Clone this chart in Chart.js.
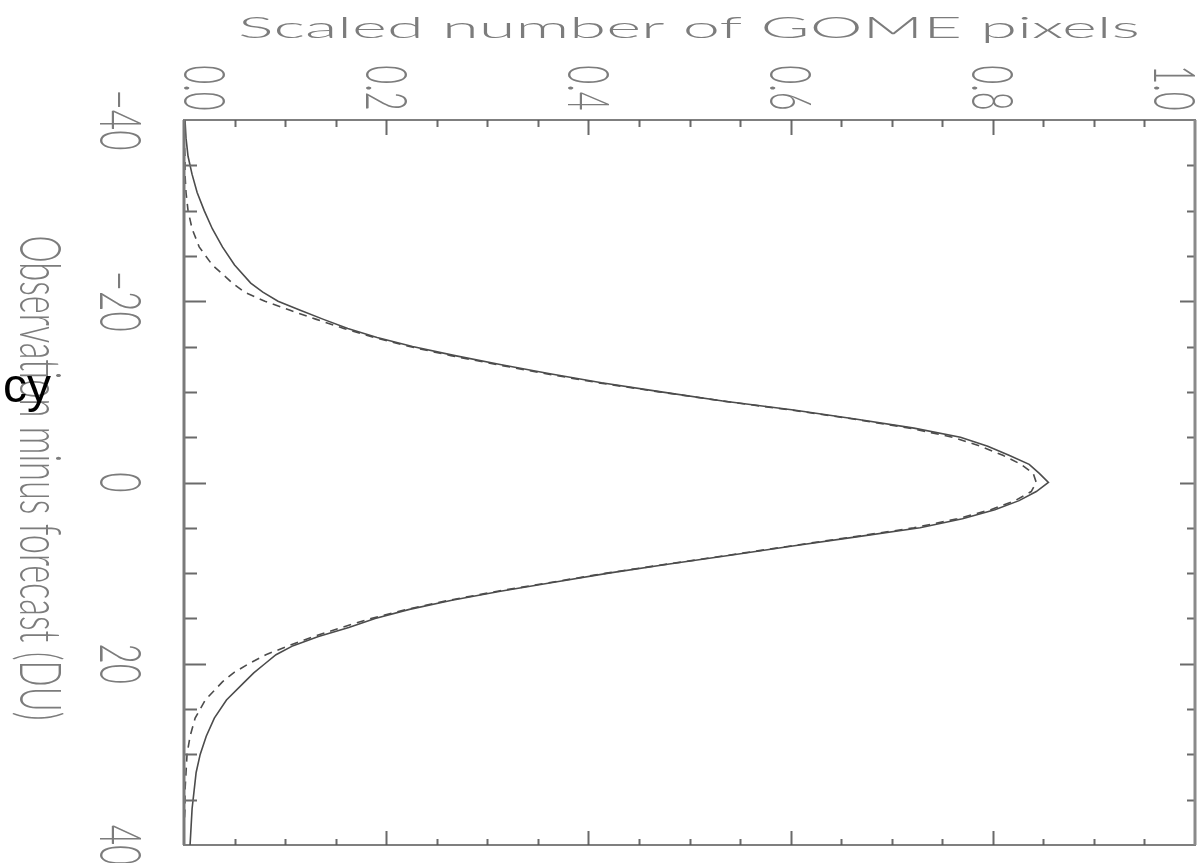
<!DOCTYPE html>
<html>
<head>
<meta charset="utf-8">
<script src="https://cdn.jsdelivr.net/npm/chart.js@4.4.1/dist/chart.umd.min.js"></script>
<style>
html,body{margin:0;padding:0;background:#fff;}
#wrap{position:relative;width:1204px;height:863px;}
</style>
</head>
<body>
<div id="wrap"><canvas id="c"></canvas></div>
<script>
// Observation minus forecast (DU) sample positions
const omfDU = [-40,-38,-36,-34,-32,-30,-28,-26,-24,-22,-21,-20,-19,-18,-17,-16,-15,-14,-13,-12,-11,-10,-9,-8,-7,-6,-5,-4,-3,-2,-1,0,
  1,2,3,4,5,6,7,8,9,10,11,12,13,14,15,16,17,18,19,20,21,22,24,26,28,30,32,34,36,38,40];
// Solid curve: scaled number of GOME pixels
const solidCounts = [0.001,0.002,0.004,0.008,0.013,0.020,0.028,0.038,0.050,0.066,0.078,0.093,0.115,0.138,0.162,0.191,0.226,0.268,0.314,0.362,0.413,0.472,0.533,0.603,0.664,0.722,0.768,0.795,0.816,0.836,0.846,0.855,
  0.843,0.826,0.802,0.770,0.728,0.665,0.602,0.542,0.480,0.420,0.366,0.313,0.265,0.223,0.189,0.163,0.133,0.108,0.091,0.080,0.069,0.060,0.042,0.030,0.022,0.016,0.012,0.010,0.008,0.007,0.006];
// Dashed curve
const dashedCounts = [0.000,0.000,0.001,0.001,0.002,0.004,0.008,0.015,0.028,0.048,0.060,0.080,0.105,0.131,0.158,0.188,0.223,0.264,0.310,0.358,0.410,0.470,0.532,0.600,0.662,0.718,0.760,0.788,0.810,0.828,0.840,0.843,
  0.838,0.822,0.798,0.765,0.722,0.662,0.600,0.540,0.478,0.418,0.364,0.310,0.262,0.220,0.185,0.156,0.128,0.104,0.081,0.064,0.049,0.038,0.021,0.011,0.006,0.003,0.002,0.001,0.001,0.000,0.000];
// Tick labels
const countTicks = [0.0,0.2,0.4,0.6,0.8,1.0];
const duTicks = [-40,-20,0,20,40];
const countTitle = 'Scaled number of GOME pixels';
const duTitle = 'Observation minus forecast (DU)';
const strayText = 'cy';

const TXT = '#7c7c7c';
const FONT = 'Lato, "DejaVu Sans", sans-serif';

function rotText(ctx, txt, cx, cy, size, sx, sy){
  ctx.save();
  ctx.font = '300 ' + size + 'px ' + FONT;
  ctx.fillStyle = TXT;
  ctx.translate(cx, cy);
  ctx.rotate(Math.PI/2);
  ctx.scale(sx, sy);
  ctx.textAlign = 'center';
  ctx.textBaseline = 'alphabetic';
  const capH = 0.72*size;
  ctx.fillText(txt, 0, capH/2);
  ctx.restore();
}

const axesPlugin = {
  id: 'idlAxes',
  afterDraw(chart){
    const ctx = chart.ctx;
    const xs = chart.scales.x, ys = chart.scales.y;
    const L = xs.getPixelForValue(0), R = xs.getPixelForValue(1);
    const T = ys.getPixelForValue(-40), B = ys.getPixelForValue(40);
    ctx.save();
    // ticks top/bottom
    ctx.strokeStyle = '#6a6a6a';
    ctx.lineWidth = 2;
    for (let i = 1; i < 20; i++){
      const v = i*0.05;
      const px = Math.round(xs.getPixelForValue(v)) + 0.5;
      const major = (i % 4 === 0);
      ctx.beginPath();
      ctx.moveTo(px, T); ctx.lineTo(px, T + (major ? 15 : 7));
      ctx.moveTo(px, B); ctx.lineTo(px, B - (major ? 14 : 6));
      ctx.stroke();
    }
    // ticks left/right
    for (let d = -35; d < 40; d += 5){
      const py = Math.round(ys.getPixelForValue(d)) + 0.5;
      const major = (d % 20 === 0);
      ctx.beginPath();
      ctx.moveTo(L, py); ctx.lineTo(L + (major ? 22 : 13), py);
      ctx.moveTo(R, py); ctx.lineTo(R - (major ? 15 : 8), py);
      ctx.stroke();
    }
    // axis lines
    ctx.strokeStyle = '#555';
    ctx.lineWidth = 1.6;
    ctx.beginPath(); ctx.moveTo(L-1, T); ctx.lineTo(R+1, T); ctx.stroke();
    ctx.beginPath(); ctx.moveTo(L-1, B); ctx.lineTo(R+1, B); ctx.stroke();
    ctx.strokeStyle = '#7a7a7a';
    ctx.lineWidth = 3;
    ctx.beginPath(); ctx.moveTo(L, T); ctx.lineTo(L, B); ctx.stroke();
    ctx.strokeStyle = '#8a8a8a';
    ctx.beginPath(); ctx.moveTo(R, T); ctx.lineTo(R, B); ctx.stroke();

    // top tick labels (rotated clockwise)
    const tsz = 26, tsy = 2.2, tsx = 1.25;
    const half = 0.72*tsz*tsy/2;
    countTicks.forEach(v => {
      let cx = xs.getPixelForValue(v);
      cx = Math.max(L + half, Math.min(R - half, cx));
      rotText(ctx, v.toFixed(1), cx, 88, tsz, tsx, tsy);
    });
    // left tick labels
    duTicks.forEach(d => {
      const cy = ys.getPixelForValue(d);
      rotText(ctx, (d < 0 ? '\u2212' : '') + Math.abs(d), 100 + half, cy, tsz, 1.35, tsy);
    });
    // left title
    ctx.save();
    ctx.font = '300 24px ' + FONT;
    const wL = ctx.measureText(duTitle).width;
    ctx.restore();
    rotText(ctx, duTitle, 20 + 0.72*24*2.4/2, 478, 24, 485/wL, 2.4);
    // top title
    ctx.save();
    ctx.font = '300 30px ' + FONT;
    ctx.fillStyle = TXT;
    const wT = ctx.measureText(countTitle).width;
    ctx.translate(689, 38);
    ctx.scale(902/wT, 1);
    ctx.textAlign = 'center';
    ctx.textBaseline = 'alphabetic';
    ctx.fillText(countTitle, 0, 0);
    ctx.restore();
    // stray text
    ctx.font = '48px "Liberation Sans", Arial, sans-serif';
    ctx.fillStyle = '#000';
    ctx.textAlign = 'left';
    ctx.textBaseline = 'alphabetic';
    ctx.fillText(strayText, 3, 402);
    ctx.restore();
  }
};

const toPts = (du, vals) => du.map((d, i) => ({x: vals[i], y: d}));

new Chart(document.getElementById('c'), {
  type: 'scatter',
  data: {
    datasets: [
      {data: toPts(omfDU, solidCounts), showLine: true, borderColor: '#4c4c4c', borderWidth: 1.6, pointRadius: 0, tension: 0, fill: false},
      {data: toPts(omfDU, dashedCounts), showLine: true, borderColor: '#4c4c4c', borderWidth: 1.6, borderDash: [8,6], pointRadius: 0, tension: 0, fill: false}
    ]
  },
  options: {
    responsive: true,
    maintainAspectRatio: false,
    animation: false,
    layout: {padding: {left: 184, top: 120, right: 9, bottom: 18}},
    plugins: {legend: {display: false}, tooltip: {enabled: false}},
    scales: {
      x: {type: 'linear', position: 'top', min: 0, max: 1, display: false},
      y: {type: 'linear', position: 'left', min: -40, max: 40, reverse: true, display: false}
    }
  },
  plugins: [axesPlugin]
});
</script>
</body>
</html>
